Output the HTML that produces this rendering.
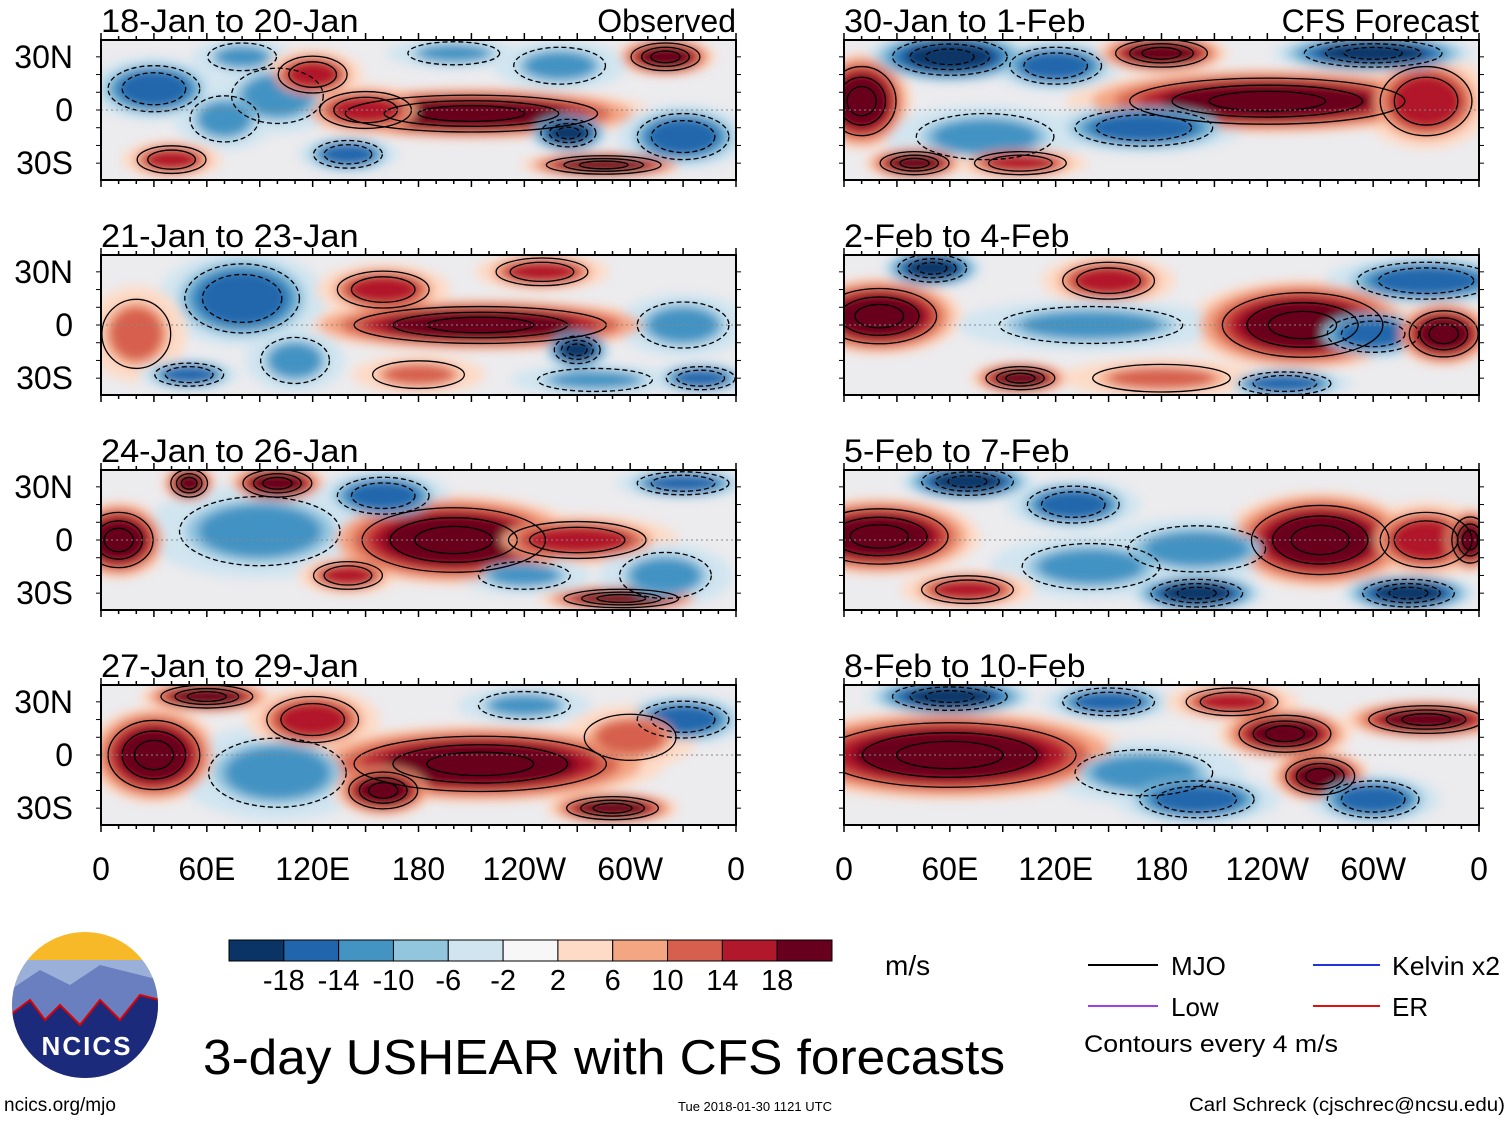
<!DOCTYPE html>
<html><head><meta charset="utf-8"><style>
body{margin:0;background:#fff;}
svg{display:block;font-family:"Liberation Sans",Arial,sans-serif;}
</style></head><body>
<svg id="c" width="1510" height="1121" viewBox="0 0 1510 1121">
<defs>
<filter id="bl" x="-10%" y="-10%" width="120%" height="120%"><feGaussianBlur stdDeviation="5"/></filter>
</defs>
</svg>
<script>
// colour levels (data)
const levelColors=["#0a3466","#2166ac","#4393c3","#92c5de","#d1e5f0","#f7f7f7","#fddbc7","#f4a582","#d6604d","#b2182b","#67001f"];
const cbLabels=["-18","-14","-10","-6","-2","2","6","10","14","18"];
const panelTitles=["18-Jan to 20-Jan","21-Jan to 23-Jan","24-Jan to 26-Jan","27-Jan to 29-Jan","30-Jan to 1-Feb","2-Feb to 4-Feb","5-Feb to 7-Feb","8-Feb to 10-Feb"];
const latLabels=["30N","0","30S"];
const latValues=[30,0,-30];
const lonLabels=["0","60E","120E","180","120W","60W","0"];
const lonValues=[0,60,120,180,240,300,360];
// blobs: [lon, lat, rxDeg, ryDeg, level(-5..5)]
const blobs1=[[210,-2,55,8,5],[150,0,20,8,4],[265,-13,12,6,-5],[285,-31,25,4,5],[30,12,20,10,-4],[100,8,20,12,-3],[70,-5,15,10,-3],[140,-25,15,6,-4],[330,-15,20,10,-4],[320,30,15,6,5],[200,32,20,5,-3],[80,30,15,6,-3],[40,-28,15,6,4],[120,20,15,8,4],[260,25,20,8,-3]];
const blobs2=[[215,0,55,8,5],[80,15,25,15,-4],[270,-14,10,6,-5],[280,-31,25,5,-3],[160,20,20,8,4],[20,-5,15,15,3],[110,-20,15,10,-3],[330,0,20,10,-3],[340,-30,15,5,-4],[50,-28,15,5,-4],[250,30,20,6,4],[180,-28,20,6,3]];
const blobs3=[[200,0,40,14,5],[270,0,30,8,4],[10,0,15,12,5],[50,32,8,6,5],[100,32,15,6,5],[90,5,35,15,-3],[160,25,20,8,-4],[140,-20,15,6,4],[295,-33,25,4,5],[240,-20,20,6,-3],[330,32,20,5,-4],[320,-20,20,10,-3]];
const blobs4=[[215,-5,55,12,5],[30,0,20,15,5],[100,-10,30,15,-3],[160,-20,15,8,5],[60,33,20,5,5],[240,28,20,6,-3],[290,-30,20,5,5],[330,20,20,8,-4],[120,20,20,10,4],[300,10,20,10,3]];
const blobs5=[[10,5,15,15,5],[240,5,60,10,5],[330,5,20,15,4],[60,30,25,8,-5],[120,25,20,8,-4],[80,-15,30,10,-3],[170,-10,30,8,-4],[300,32,30,6,-5],[180,32,20,6,5],[100,-30,20,5,4],[40,-30,15,5,5]];
const blobs6=[[20,5,25,12,5],[260,0,35,14,5],[50,32,15,6,-5],[150,25,20,8,4],[140,0,40,8,-3],[330,25,30,8,-4],[300,-5,20,8,-4],[340,-5,15,10,5],[100,-30,15,5,5],[250,-33,20,5,-4],[180,-30,30,6,3]];
const blobs7=[[20,2,30,12,5],[270,0,30,15,5],[70,33,20,6,-5],[130,20,20,8,-4],[140,-15,30,10,-3],[330,0,20,12,4],[355,0,8,10,5],[200,-5,30,10,-3],[200,-30,20,6,-5],[320,-30,20,6,-5],[70,-28,20,6,4]];
const blobs8=[[60,0,55,14,5],[250,12,20,8,5],[270,-12,15,8,5],[330,20,25,6,5],[60,33,25,6,-5],[150,30,20,6,-4],[170,-10,30,10,-3],[200,-25,25,8,-4],[300,-25,20,8,-4],[220,30,20,6,4]];
const allBlobs=[blobs1,blobs2,blobs3,blobs4,blobs5,blobs6,blobs7,blobs8];

const svg=document.getElementById('c');
const NS="http://www.w3.org/2000/svg";
function mk(t,a,p){const e=document.createElementNS(NS,t);for(const k in a)e.setAttribute(k,a[k]);(p||svg).appendChild(e);return e;}
const PW=635,PH=140;
const lefts=[101,844],tops=[40,255,470,685];
function xS(x0,lon){return x0+lon/360*PW;}
function yS(y0,lat){return y0+PH/2-lat*(PH/2)/39.5;}
function col(v){return levelColors[v+5];}

for(let i=0;i<allBlobs.length;i++){
  const bl=allBlobs[i];
  const x0=i<4?lefts[0]:lefts[1], y0=tops[i%4];
  const g=mk('g',{});
  
  
  const cp=mk('clipPath',{id:'cp'+i},g);
  mk('rect',{x:x0,y:y0,width:PW,height:PH},cp);
  const fg=mk('g',{'clip-path':'url(#cp'+i+')'},g);
  mk('rect',{x:x0,y:y0,width:PW,height:PH,fill:'#ecebee'},fg);
  const bg=mk('g',{filter:'url(#bl)'},fg);
  bl.forEach(b=>{const s=Math.sign(b[4]);
    mk('ellipse',{cx:xS(x0,b[0]),cy:yS(y0,b[1]),rx:b[2]*1.9*PW/360,ry:b[3]*1.8*PH/79,fill:col(s)},bg);});
  bl.forEach(b=>{const s=Math.sign(b[4]),a=Math.abs(b[4]);
    for(let k=2;k<=a;k++){const f=1+(a-k)*0.22;
      const e=mk('ellipse',{cx:xS(x0,b[0]),cy:yS(y0,b[1]),rx:b[2]*f*PW/360,ry:b[3]*f*PH/79,fill:col(s*k)},bg);
      
      }
  });
  bl.forEach(b=>{if(Math.abs(b[4])<3)return;const neg=b[4]<0;
    [1.3,0.9,0.55].slice(0,Math.abs(b[4])-2).forEach(f=>{
      const e=mk('ellipse',{cx:xS(x0,b[0]),cy:yS(y0,b[1]),rx:b[2]*f*PW/360,ry:b[3]*f*PH/79,fill:'none',stroke:'#000','stroke-width':1.3,'stroke-dasharray':neg?'5,3':'none'},fg);
      
      });
  });
  mk('line',{x1:x0,x2:x0+PW,y1:yS(y0,0),y2:yS(y0,0),stroke:'#888','stroke-dasharray':'2,3','stroke-width':1},fg);
  mk('rect',{x:x0,y:y0,width:PW,height:PH,fill:'none',stroke:'#000','stroke-width':2},g);
  for(let l=0;l<=360;l+=10){const x=xS(x0,l),len=l%30==0?7:4;
    mk('line',{x1:x,x2:x,y1:y0,y2:y0-len,stroke:'#000','stroke-width':1.5},g);
    mk('line',{x1:x,x2:x,y1:y0+PH,y2:y0+PH+len,stroke:'#000','stroke-width':1.5},g);}
  for(let l=-30;l<=30;l+=10){const y=yS(y0,l);
    mk('line',{x1:x0,x2:x0-5,y1:y,y2:y,stroke:'#000'},g);mk('line',{x1:x0+PW,x2:x0+PW+5,y1:y,y2:y,stroke:'#000'},g);}
  const t=mk('text',{x:x0,y:y0-8,'font-size':32,textLength:panelTitles[i].length*16.1,lengthAdjust:'spacingAndGlyphs'},g);t.textContent=panelTitles[i];
  
  
  if(i%4==3) lonValues.forEach((lv,j)=>{const tt=mk('text',{x:xS(x0,lv),y:880,'font-size':32,'text-anchor':'middle'},g);tt.textContent=lonLabels[j];
    
    });
}
// latitude labels: left column only
tops.forEach(y0=>{
  for(let j=0;j<latValues.length;j++){
    const tt=mk('text',{x:73,y:yS(y0,latValues[j])+11,'font-size':32,'text-anchor':'end'});
    tt.textContent=latLabels[j];
    
    
  }
});
const ob=mk('text',{x:736,y:32,'font-size':32,'text-anchor':'end'});ob.textContent='Observed';


const cf=mk('text',{x:1479,y:32,'font-size':32,'text-anchor':'end'});cf.textContent='CFS Forecast';



const cb=mk('g',{});


const cbx=229,cbw=603/11;
levelColors.forEach((c,i)=>mk('rect',{x:cbx+i*cbw,y:940,width:cbw,height:21,fill:c,stroke:'#000','stroke-width':1},cb));
cbLabels.forEach((l,i)=>{const t=mk('text',{x:cbx+(i+1)*cbw,y:990,'font-size':29,'text-anchor':'middle'},cb);t.textContent=l;});
</script>
<div style="position:absolute;left:0;top:0;width:1510px;height:1121px;pointer-events:none">
<svg width="1510" height="1121" style="position:absolute;left:0;top:0">
<g>
<clipPath id="lc"><circle cx="85" cy="1005" r="73"/></clipPath>
<g clip-path="url(#lc)">
<rect x="10" y="930" width="150" height="150" fill="#f7b928"/>
<rect x="10" y="960" width="150" height="30" fill="#9ab0d8"/>
<path d="M10 990 L40 970 L70 985 L100 965 L160 980 L160 1080 L10 1080Z" fill="#6a7fc0"/>
<path d="M10 1015 L30 1000 L45 1020 L60 1005 L80 1025 L100 1000 L120 1020 L140 995 L160 1000 L160 1080 L10 1080Z" fill="#1b2a7a" stroke="#d00" stroke-width="2"/>
</g>
<text x="87" y="1055" font-size="26" font-weight="bold" fill="#fff" text-anchor="middle" font-family="Liberation Sans" letter-spacing="2">NCICS</text>
</g>
<text x="885" y="975" font-size="28" font-family="Liberation Sans">m/s</text>
<text x="203" y="1074" font-size="49" font-family="Liberation Sans" textLength="802" lengthAdjust="spacingAndGlyphs">3-day USHEAR with CFS forecasts</text>
<g font-family="Liberation Sans" font-size="26">
<line x1="1088" x2="1158" y1="965" y2="965" stroke="#000" stroke-width="2"/><text x="1171" y="975">MJO</text>
<line x1="1313" x2="1380" y1="965" y2="965" stroke="#2233dd" stroke-width="2"/><text x="1392" y="975" textLength="108" lengthAdjust="spacingAndGlyphs">Kelvin x2</text>
<line x1="1088" x2="1158" y1="1006" y2="1006" stroke="#a040e0" stroke-width="2"/><text x="1171" y="1016">Low</text>
<line x1="1313" x2="1380" y1="1006" y2="1006" stroke="#dd1111" stroke-width="2"/><text x="1392" y="1016">ER</text>
<text x="1084" y="1052" font-size="24" textLength="254" lengthAdjust="spacingAndGlyphs">Contours every 4 m/s</text>
</g>
<text x="4" y="1111" font-size="19" font-family="Liberation Sans">ncics.org/mjo</text>
<text x="755" y="1111" font-size="13" font-family="Liberation Sans" text-anchor="middle">Tue 2018-01-30 1121 UTC</text>
<text x="1505" y="1111" font-size="19" font-family="Liberation Sans" text-anchor="end" textLength="316" lengthAdjust="spacingAndGlyphs">Carl Schreck (cjschrec@ncsu.edu)</text>
</svg></div>
</body></html>
